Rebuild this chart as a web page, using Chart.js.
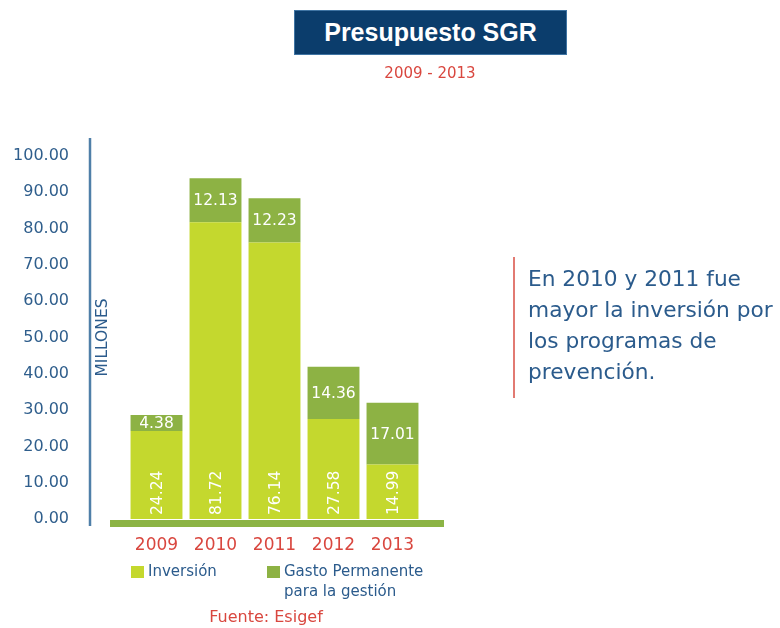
<!DOCTYPE html>
<html>
<head>
<meta charset="utf-8">
<script src="https://cdn.jsdelivr.net/npm/chart.js@4.4.1/dist/chart.umd.min.js"></script>
<style>
  body { margin: 0; background: #fff; font-family: "DejaVu Sans", sans-serif; }
  #wrap { position: relative; width: 780px; height: 628px; overflow: hidden; }
  #c { position: absolute; left: 0; top: 0; }
  .title { position: absolute; left: 294px; top: 10px; width: 271px; height: 43px; background: #0b3d6c;
    border: 1px solid #3f74a3; color: #fff; font: bold 25px "Liberation Sans", Arial, sans-serif;
    text-align: center; line-height: 43px; }
  .sub { position: absolute; left: 330px; width: 200px; top: 64px; text-align: center; color: #d9473f; font-size: 15px; }
  .note { position: absolute; left: 513px; top: 257px; height: 141px; border-left: 2px solid #e27a72; }
  .note div { position: absolute; left: 13px; top: 6px; width: 270px; color: #2b5b8c; font-size: 21.7px; line-height: 31px; white-space: nowrap; }
  .leg { position: absolute; top: 561px; color: #2b5b8c; font-size: 15px; line-height: 20px; }
  .leg span.sq { position: absolute; left: -17px; top: 5px; width: 13px; height: 12px; }
  .src { position: absolute; left: 166px; width: 200px; top: 607px; text-align: center; color: #d9473f; font-size: 16px; }
</style>
</head>
<body>
<div id="wrap">
  <canvas id="c" width="780" height="628"></canvas>
  <div class="title">Presupuesto SGR</div>
  <div class="sub">2009 - 2013</div>
  <div class="note"><div>En 2010 y 2011 fue<br>mayor la inversión por<br>los programas de<br>prevención.</div></div>
  <div id="legend"></div>
  <div class="src">Fuente: Esigef</div>
</div>
<script>
const years = ['2009', '2010', '2011', '2012', '2013'];
const inversion = [24.24, 81.72, 76.14, 27.58, 14.99];
const gasto = [4.38, 12.13, 12.23, 14.36, 17.01];
const seriesNames = ['Inversión', 'Gasto Permanente<br>para la gestión'];
const seriesColors = ['#c4d82e', '#8db244'];
const yTicks = [0, 10, 20, 30, 40, 50, 60, 70, 80, 90, 100];

// legend in html
const legendX = [148, 284];
document.getElementById('legend').innerHTML = seriesNames.map((n, i) =>
  `<div class="leg" style="left:${legendX[i]}px"><span class="sq" style="background:${seriesColors[i]}"></span>${n}</div>`
).join('');

const extras = {
  id: 'extras',
  beforeDatasetsDraw(chart) {
    const { ctx, chartArea: { left, right, top, bottom }, scales: { y } } = chart;
    ctx.save();
    // blue axis line
    ctx.strokeStyle = '#4f7fa8';
    ctx.lineWidth = 2.5;
    ctx.beginPath();
    ctx.moveTo(left - 37, top - 18);
    ctx.lineTo(left - 37, bottom + 7);
    ctx.stroke();
    // MILLONES
    ctx.fillStyle = '#2b5b8c';
    ctx.font = '15.5px "DejaVu Sans"';
    ctx.textAlign = 'center';
    ctx.textBaseline = 'middle';
    ctx.translate(left - 24, y.getPixelForValue(50));
    ctx.rotate(-Math.PI / 2);
    ctx.fillText('MILLONES', 0, 0);
    ctx.restore();
  },
  afterDatasetsDraw(chart) {
    const { ctx, chartArea: { left, right, bottom } } = chart;
    ctx.save();
    // green base
    ctx.fillStyle = '#8cb445';
    ctx.fillRect(left - 17, bottom + 1, right - left + 39, 7);
    ctx.fillStyle = '#fff';
    ctx.font = '15.5px "DejaVu Sans"';
    // values
    chart.getDatasetMeta(0).data.forEach((bar, i) => {
      ctx.save();
      ctx.translate(bar.x, bar.base - 4);
      ctx.rotate(-Math.PI / 2);
      ctx.textAlign = 'left';
      ctx.textBaseline = 'middle';
      ctx.fillText(inversion[i].toFixed(2), 0, 1);
      ctx.restore();
    });
    chart.getDatasetMeta(1).data.forEach((bar, i) => {
      ctx.textAlign = 'center';
      ctx.textBaseline = 'middle';
      ctx.fillText(gasto[i].toFixed(2), bar.x, (bar.y + bar.base) / 2 + 1);
    });
    ctx.restore();
  }
};

new Chart(document.getElementById('c'), {
  type: 'bar',
  data: {
    labels: years,
    datasets: [
      { label: 'Inversión', data: inversion, backgroundColor: seriesColors[0] },
      { label: 'Gasto Permanente para la gestión', data: gasto, backgroundColor: seriesColors[1] }
    ]
  },
  options: {
    responsive: false,
    animation: false,
    layout: { padding: { left: 0, right: 358, top: 156, bottom: 69 } },
    datasets: { bar: { barPercentage: 0.88, categoryPercentage: 1 } },
    plugins: { legend: { display: false }, tooltip: { enabled: false } },
    scales: {
      x: {
        stacked: true,
        grid: { display: false },
        border: { display: false },
        ticks: { color: '#d9473f', font: { family: 'DejaVu Sans', size: 17 }, padding: 8 },
        afterFit: (axis) => { axis.height = 40; }
      },
      y: {
        stacked: true,
        min: 0, max: 100,
        afterBuildTicks: (axis) => { axis.ticks = yTicks.map(v => ({ value: v })); },
        grid: { display: false, drawTicks: false },
        border: { display: false },
        ticks: { color: '#2f5e8c', font: { family: 'DejaVu Sans', size: 16 }, padding: 58,
          callback: (v) => Number(v).toFixed(2) },
        afterFit: (axis) => { axis.width = 127; }
      }
    }
  },
  plugins: [extras]
});
</script>
</body>
</html>
